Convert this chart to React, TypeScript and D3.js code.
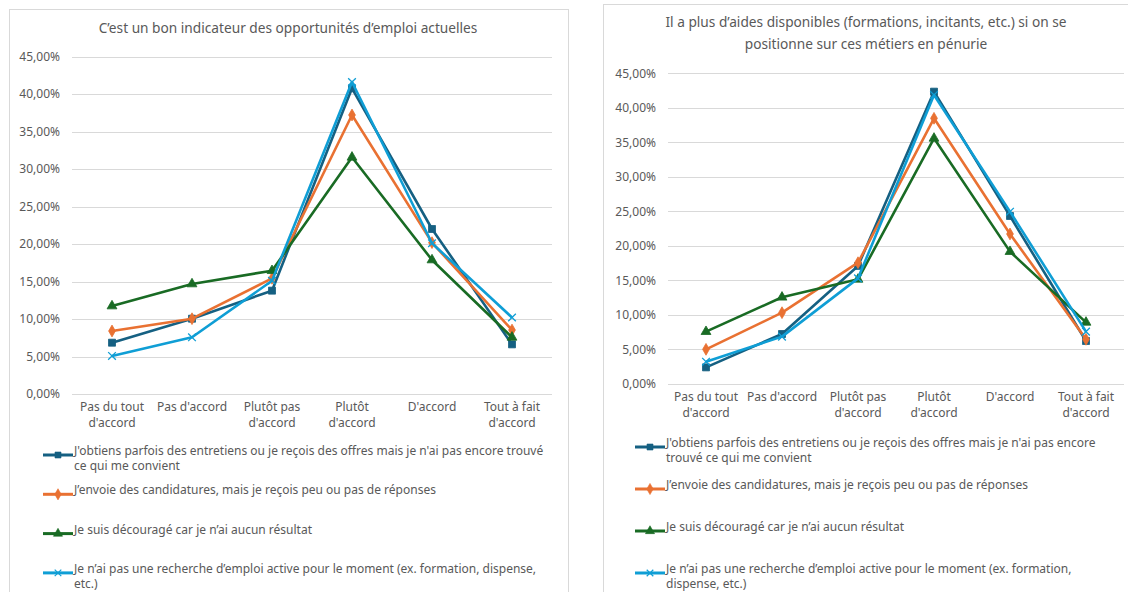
import React, { useRef, useEffect } from 'react';
import * as d3 from 'd3';

// categories on the x axis (same for both charts)
const categories = [
  "Pas du tout d'accord",
  "Pas d'accord",
  "Plutôt pas d'accord",
  "Plutôt d'accord",
  "D'accord",
  "Tout à fait d'accord",
];

const seriesNames = [
  "J'obtiens parfois des entretiens ou je reçois des offres mais je n'ai pas encore trouvé ce qui me convient",
  "J’envoie des candidatures, mais je reçois peu ou pas de réponses",
  "Je suis découragé car je n’ai aucun résultat",
  "Je n’ai pas une recherche d’emploi active pour le moment (ex. formation, dispense, etc.)",
];

const seriesColors = ['#156082', '#E97132', '#196B24', '#0F9ED5'];
const seriesSymbols = [d3.symbolSquare, d3.symbolDiamond, d3.symbolTriangle, d3.symbolX];

const leftTitle = "C’est un bon indicateur des opportunités d’emploi actuelles";
const rightTitle = "Il a plus d’aides disponibles (formations, incitants, etc.) si on se positionne sur ces métiers en pénurie";

// values in percent
const leftEntretiens = [6.84, 10.04, 13.78, 40.76, 22.0, 6.62];
const leftCandidatures = [8.4, 10.04, 15.42, 37.2, 20.18, 8.53];
const leftDecourage = [11.73, 14.67, 16.44, 31.56, 17.87, 7.56];
const leftInactif = [5.07, 7.56, 15.1, 41.6, 20.1, 10.2];

const rightEntretiens = [2.41, 7.24, 17.1, 42.34, 24.33, 6.23];
const rightCandidatures = [5.02, 10.33, 17.57, 38.48, 21.73, 6.47];
const rightDecourage = [7.58, 12.56, 15.16, 35.58, 19.17, 8.93];
const rightInactif = [3.23, 6.86, 15.3, 41.86, 24.96, 7.58];

const yMax = 0.45;

const FONT = "'Noto Sans', Roboto, sans-serif";
const GREY = '#595959';
const GRID = '#d9d9d9';

const frLocale = d3.formatLocale({
  decimal: ',',
  thousands: ' ',
  grouping: [3],
  currency: ['', ' €'],
  percent: '%',
});
const pct = frLocale.format('.2%');

const panels = [
  {
    title: leftTitle,
    titleWidth: 500,
    titleY: 29,
    titleX: 288,
    box: [9, 9, 568],
    plot: { left: 72, right: 552, top: 56.5, bottom: 394 },
    series: [leftEntretiens, leftCandidatures, leftDecourage, leftInactif],
    legend: { x: 43, y: 455, step: 39.3, width: 470 },
  },
  {
    title: rightTitle,
    titleWidth: 440,
    titleY: 23,
    titleX: 866,
    box: [603, 4, 1140],
    plot: { left: 668, right: 1124, top: 73.3, bottom: 384 },
    series: [rightEntretiens, rightCandidatures, rightDecourage, rightInactif],
    legend: { x: 635, y: 447, step: 42, width: 452 },
  },
];

function wrap(sel, maxW, lineH) {
  sel.each(function () {
    const text = d3.select(this);
    const words = text.text().split(/\s+/);
    const x = text.attr('x');
    text.text(null);
    let line = [];
    let tspan = text.append('tspan').attr('x', x).attr('dy', 0);
    words.forEach((w) => {
      line.push(w);
      tspan.text(line.join(' '));
      if (tspan.node().getComputedTextLength() > maxW && line.length > 1) {
        line.pop();
        tspan.text(line.join(' '));
        line = [w];
        tspan = text.append('tspan').attr('x', x).attr('dy', lineH).text(w);
      }
    });
  });
}

function drawPanel(svg, p) {
  const g = svg.append('g');

  g.append('rect')
    .attr('x', p.box[0] + 0.5)
    .attr('y', p.box[1] + 0.5)
    .attr('width', p.box[2] - p.box[0])
    .attr('height', 700)
    .attr('fill', '#fff')
    .attr('stroke', GRID);

  g.append('text')
    .attr('x', p.titleX)
    .attr('y', p.titleY)
    .attr('text-anchor', 'middle')
    .attr('dominant-baseline', 'middle')
    .attr('font-size', 13.7)
    .attr('fill', GREY)
    .text(p.title)
    .call(wrap, p.titleWidth, 22);

  const x = d3.scaleBand().domain(categories).range([p.plot.left, p.plot.right]);
  const y = d3.scaleLinear().domain([0, yMax]).range([p.plot.bottom, p.plot.top]);
  const ticks = y.ticks(10);

  g.append('g')
    .selectAll('line')
    .data(ticks)
    .join('line')
    .attr('x1', p.plot.left)
    .attr('x2', p.plot.right)
    .attr('y1', (d) => Math.round(y(d)) + 0.5)
    .attr('y2', (d) => Math.round(y(d)) + 0.5)
    .attr('stroke', GRID);

  g.append('g')
    .selectAll('text')
    .data(ticks)
    .join('text')
    .attr('x', p.plot.left - 12)
    .attr('y', (d) => y(d))
    .attr('dy', '0.35em')
    .attr('text-anchor', 'end')
    .attr('font-size', 12)
    .attr('fill', GREY)
    .text((d) => pct(d));

  g.append('g')
    .selectAll('text')
    .data(categories)
    .join('text')
    .attr('x', (d) => x(d) + x.bandwidth() / 2)
    .attr('y', p.plot.bottom + 17)
    .attr('dy', '0.35em')
    .attr('text-anchor', 'middle')
    .attr('font-size', 12)
    .attr('fill', GREY)
    .text((d) => d)
    .call(wrap, x.bandwidth() - 2, 16);

  const line = d3
    .line()
    .x((d, i) => x(categories[i]) + x.bandwidth() / 2)
    .y((d) => y(d / 100));

  p.series.forEach((vals, si) => {
    const color = seriesColors[si];
    const sg = g.append('g');
    sg.append('path')
      .datum(vals)
      .attr('d', line)
      .attr('fill', 'none')
      .attr('stroke', color)
      .attr('stroke-width', 2.6)
      .attr('stroke-linejoin', 'round');
    const isX = si === 3;
    sg.selectAll('path.m')
      .data(vals)
      .join('path')
      .attr('class', 'm')
      .attr('transform', (d, i) => `translate(${x(categories[i]) + x.bandwidth() / 2},${y(d / 100)})`)
      .attr('d', d3.symbol(seriesSymbols[si], isX ? 40 : si === 0 ? 49 : si === 1 ? 40 : 42))
      .attr('fill', isX ? 'none' : color)
      .attr('stroke', color)
      .attr('stroke-width', isX ? 1.3 : 0.8);
  });

  const lg = g.append('g');
  seriesNames.forEach((name, si) => {
    const color = seriesColors[si];
    const ly = p.legend.y + si * p.legend.step;
    lg.append('line')
      .attr('x1', p.legend.x)
      .attr('x2', p.legend.x + 30)
      .attr('y1', ly)
      .attr('y2', ly)
      .attr('stroke', color)
      .attr('stroke-width', 3);
    lg.append('path')
      .attr('transform', `translate(${p.legend.x + 15},${ly})`)
      .attr('d', d3.symbol(seriesSymbols[si], si === 3 ? 30 : 36))
      .attr('fill', si === 3 ? 'none' : color)
      .attr('stroke', color)
      .attr('stroke-width', si === 3 ? 1.2 : 0.6);
    lg.append('text')
      .attr('x', p.legend.x + 31)
      .attr('y', ly)
      .attr('dy', '0.35em')
      .attr('font-size', 12)
      .attr('fill', GREY)
      .text(name)
      .call(wrap, p.legend.width, 15);
  });
}

const App = () => {
  const ref = useRef(null);

  useEffect(() => {
    const svg = d3.select(ref.current);
    svg.selectAll('*').remove();
    svg.attr('font-family', FONT);
    panels.forEach((p) => drawPanel(svg, p));
  }, []);

  return (
    <svg
      ref={ref}
      width={1128}
      height={592}
      style={{ position: 'absolute', left: 0, top: 0, background: '#fff', overflow: 'hidden' }}
    />
  );
};

export default App;
